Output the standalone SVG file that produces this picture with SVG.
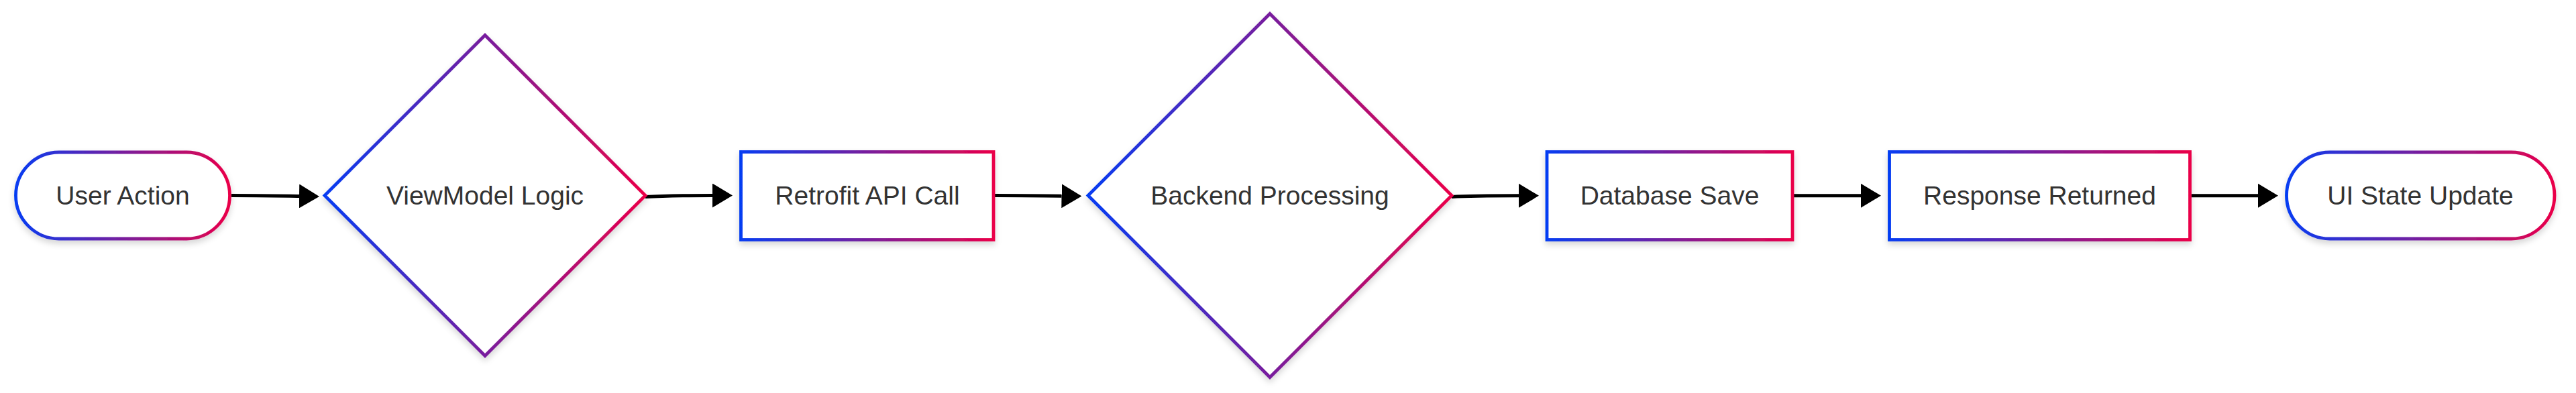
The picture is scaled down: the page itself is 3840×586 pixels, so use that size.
<svg xmlns="http://www.w3.org/2000/svg" width="3840" height="586" viewBox="0 0 3840 586">
<defs>
<linearGradient id="grad" x1="0" y1="0" x2="1" y2="0" gradientUnits="objectBoundingBox">
<stop offset="0" stop-color="#063cf2"/>
<stop offset="1" stop-color="#ea0049"/>
</linearGradient>
<filter id="shadow" x="-10%" y="-10%" width="120%" height="130%">
<feDropShadow dx="0" dy="5" stdDeviation="5" flood-color="#000" flood-opacity="0.16"/>
</filter>
<marker id="arrow" viewBox="0 0 10 12" refX="0" refY="6" markerWidth="30" markerHeight="36" markerUnits="userSpaceOnUse" orient="auto">
<path d="M0,0 L10,6 L0,12 z" fill="#000"/>
</marker>
<style>
.shape{fill:#fff;stroke:url(#grad);stroke-width:4.8;filter:url(#shadow);}
.label{font-family:"Liberation Sans",Arial,Helvetica,sans-serif;font-size:39px;fill:#333;text-anchor:middle;}
.edge{fill:none;stroke:#000;stroke-width:5;marker-end:url(#arrow);}
</style>
</defs>
<rect width="3840" height="586" fill="#fff"/>
<g id="connectors">
<path class="edge" d="M345,291.5 C380,291.5 410,292 446,292.5"/>
<path class="edge" d="M962,293.5 C990,292 1010,291.5 1062,291.5"/>
<path class="edge" d="M1483,291.5 C1520,291.5 1550,291.8 1582.5,292.2"/>
<path class="edge" d="M2164,293.5 C2190,292 2220,291.8 2264,291.8"/>
<path class="edge" d="M2674,291.8 L2774,291.8"/>
<path class="edge" d="M3266.5,291.8 L3366,291.8"/>
</g>
<g id="node-user-action">
<rect class="shape" x="23.5" y="227" width="319" height="129" rx="64.5" ry="64.5"/>
<text class="label" x="183" y="305">User Action</text>
</g>
<g id="node-viewmodel-logic">
<polygon class="shape" points="723,52.5 962,291.5 723,530.5 484,291.5"/>
<text class="label" x="723" y="305">ViewModel Logic</text>
</g>
<g id="node-retrofit-api-call">
<rect class="shape" x="1104.5" y="226.5" width="376.5" height="131"/>
<text class="label" x="1293" y="305">Retrofit API Call</text>
</g>
<g id="node-backend-processing">
<polygon class="shape" points="1893,20.5 2164,291.5 1893,562.5 1622,291.5"/>
<text class="label" x="1893" y="305">Backend Processing</text>
</g>
<g id="node-database-save">
<rect class="shape" x="2306" y="226.5" width="366" height="131"/>
<text class="label" x="2489" y="305">Database Save</text>
</g>
<g id="node-response-returned">
<rect class="shape" x="2816.5" y="226.5" width="448" height="131"/>
<text class="label" x="3040.5" y="305">Response Returned</text>
</g>
<g id="node-ui-state-update">
<rect class="shape" x="3408.5" y="227" width="399.5" height="129" rx="64.5" ry="64.5"/>
<text class="label" x="3608" y="305">UI State Update</text>
</g>
</svg>
